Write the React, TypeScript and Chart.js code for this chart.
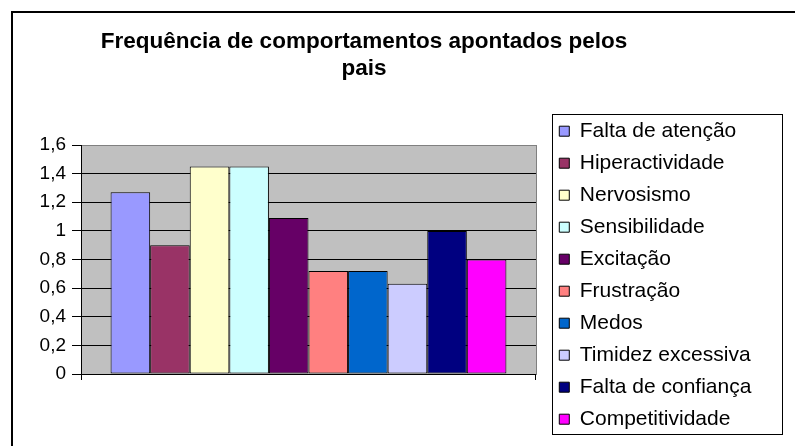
import React, { useEffect, useRef } from 'react';
import { Chart, registerables } from 'chart.js';

Chart.register(...registerables);

const categories = [''];
const seriesNames = [
  'Falta de atenção',
  'Hiperactividade',
  'Nervosismo',
  'Sensibilidade',
  'Excitação',
  'Frustração',
  'Medos',
  'Timidez excessiva',
  'Falta de confiança',
  'Competitividade',
];
const seriesValues = [1.27, 0.9, 1.45, 1.45, 1.09, 0.72, 0.72, 0.63, 1.0, 0.8];
const seriesColors = [
  '#9999FF',
  '#993366',
  '#FFFFCC',
  '#CCFFFF',
  '#660066',
  '#FF8080',
  '#0066CC',
  '#CCCCFF',
  '#000080',
  '#FF00FF',
];
const yTickLabels = ['0', '0,2', '0,4', '0,6', '0,8', '1', '1,2', '1,4', '1,6'];
const titleLines = ['Frequência de comportamentos apontados pelos', 'pais'];

const FONT = "'Liberation Sans', Arial, sans-serif";
// page-space layout targets
const PLOT_LEFT = 81;
const LEGEND_RIGHT = 761.4;
const TITLE_CENTER = 364;
// the canvas is wider than the page so the legend is never squeezed
const OFF = 520;
const CW = 2 * (TITLE_CENTER + OFF);
const CH = 446;
const OUTER_SPACER = CW - LEGEND_RIGHT - OFF;

const plotDecor = {
  id: 'plotDecor',
  beforeDraw(chart: any) {
    const { ctx, chartArea: a } = chart;
    ctx.save();
    ctx.fillStyle = '#C0C0C0';
    ctx.fillRect(a.left, a.top, a.right - a.left, a.bottom - a.top);
    ctx.strokeStyle = '#808080';
    ctx.lineWidth = 1;
    ctx.strokeRect(Math.round(a.left) + 0.5, Math.round(a.top) + 0.5, Math.round(a.right - a.left), Math.round(a.bottom - a.top));
    ctx.restore();
  },
  afterDraw(chart: any) {
    const lg = chart.legend;
    if (!lg) return;
    const ctx = chart.ctx;
    const colH = lg.columnSizes && lg.columnSizes[0] ? lg.columnSizes[0].height : 320;
    const x0 = Math.round(lg.left + 4) + 0.5;
    const y0 = Math.round(lg.bottom - colH - 7) + 0.5;
    const w = Math.round(lg.width + 17);
    const h = Math.round(colH);
    ctx.save();
    ctx.strokeStyle = '#000';
    ctx.lineWidth = 1;
    ctx.strokeRect(x0, y0, w, h);
    ctx.restore();
  },
};

const spacer = (w: number, weight: number) => ({
  type: 'linear',
  position: 'right',
  weight,
  display: true,
  grid: { display: false },
  border: { display: false },
  ticks: { display: false },
  afterFit: (s: any) => {
    s.width = w;
  },
});

export default function App() {
  const ref = useRef<HTMLCanvasElement | null>(null);

  useEffect(() => {
    if (!ref.current) return;
    const chart = new Chart(ref.current, {
      type: 'bar',
      data: {
        labels: categories,
        datasets: seriesNames.map((name, i) => ({
          label: name,
          data: [seriesValues[i]],
          backgroundColor: seriesColors[i],
          borderColor: '#000',
          borderWidth: 1,
          borderSkipped: false,
          categoryPercentage: 0.87,
          barPercentage: 1,
        })),
      },
      options: {
        responsive: false,
        maintainAspectRatio: false,
        animation: false,
        devicePixelRatio: 1,
        layout: { padding: { top: 0, left: 0, right: 0, bottom: 5.3 } },
        plugins: {
          title: {
            display: true,
            text: titleLines,
            color: '#000',
            fullSize: true,
            font: { family: FONT, size: 22.5, weight: 'bold', lineHeight: 1.2 },
            padding: { top: 28, bottom: 63 },
          },
          legend: {
            display: true,
            position: 'right',
            align: 'end',
            labels: {
              color: '#000',
              font: { family: FONT, size: 21 },
              boxWidth: 10,
              boxHeight: 10,
              padding: 11,
            },
          },
          tooltip: { enabled: false },
        },
        scales: {
          x: {
            type: 'category',
            grid: { display: true, drawOnChartArea: false, color: '#000', tickLength: 6 },
            border: { display: true, color: '#000', width: 1 },
            ticks: { display: false },
            afterFit: (s: any) => {
              s.height = 66.7;
            },
          },
          y: {
            type: 'linear',
            position: 'left',
            min: 0,
            max: 1.6,
            ticks: {
              stepSize: 0.2,
              color: '#000',
              font: { family: FONT, size: 19 },
              padding: 6,
              callback: (_v: any, i: number) => yTickLabels[i],
            },
            grid: {
              color: (c: any) => (c.tick && Math.abs(c.tick.value - 1.6) < 1e-6 ? '#808080' : '#000'),
              tickColor: '#000',
              tickLength: 9,
              lineWidth: 1,
            },
            border: { display: true, color: '#000', width: 1 },
            afterFit: (s: any) => {
              s.width = OFF + PLOT_LEFT;
            },
          },
          gapRight: spacer(12.3, 0),
          outerRight: spacer(OUTER_SPACER, 2000),
        },
      },
      plugins: [plotDecor],
    } as any);
    return () => chart.destroy();
  }, []);

  return (
    <div style={{ position: 'fixed', left: 0, top: 0, width: 795, height: 446, overflow: 'hidden', background: '#fff' }}>
      <div
        style={{
          position: 'absolute',
          left: 11,
          top: 11,
          width: 900,
          height: 600,
          borderLeft: '2px solid #000',
          borderTop: '2px solid #000',
        }}
      />
      <canvas
        ref={ref}
        width={CW}
        height={CH}
        style={{ position: 'absolute', left: -OFF, top: 0, width: CW, height: CH }}
      />
    </div>
  );
}
